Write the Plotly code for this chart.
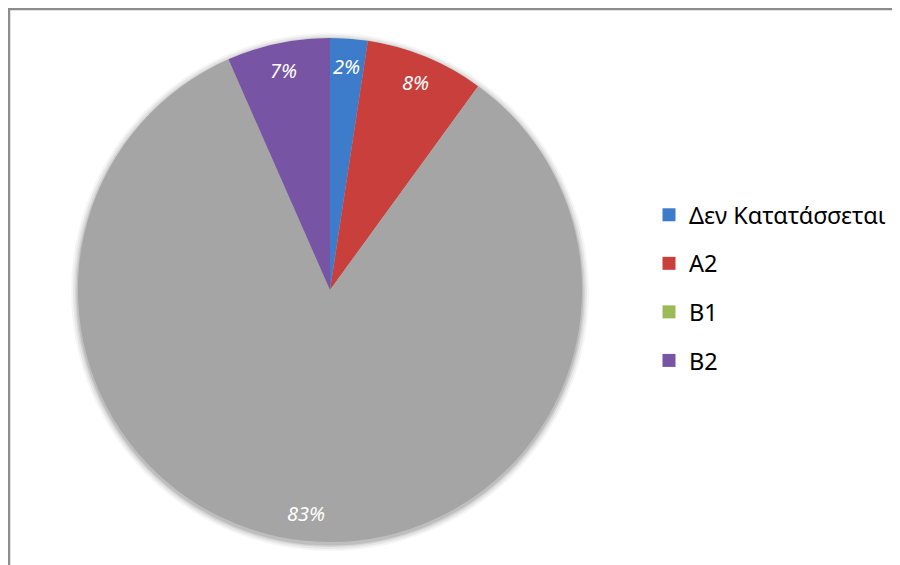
import math
import plotly.graph_objects as go

# chart data
categories = ['Δεν Κατατάσσεται', 'A2', 'B1', 'C1', 'B2']
values = [2.4, 7.6, 0.0, 83.4, 6.6]
colors = ['#3D7CCA', '#C83F3B', '#9BBB59', '#A5A5A5', '#7854A4']
legend_names = ['Δεν Κατατάσσεται', 'A2', 'B1', 'B2']
legend_colors = ['#3D7CCA', '#C83F3B', '#9BBB59', '#7854A4']

W, H = 900, 565
OFF = 8  # the page body adds an 8px margin
CX, CY, R = 330 - OFF, 290 - OFF, 252  # pie centre / radius in figure pixels

fig = go.Figure()

fig.add_trace(go.Pie(labels=categories,
                     values=values,
                     sort=False,
                     direction='clockwise',
                     rotation=0,
                     marker=dict(colors=colors, line=dict(width=0)),
                     textinfo='none',
                     hoverinfo='label+percent',
                     showlegend=False,
                     domain=dict(x=[(CX - R) / W, (CX + R) / W],
                                 y=[1 - (CY + R) / H, 1 - (CY - R) / H])
                     ))

# legend entries (B1 stays in the legend, the grey slice does not)
for i, (name, col) in enumerate(zip(legend_names, legend_colors)):
    fig.add_trace(go.Scatter(x=[None], y=[None], mode='markers', name=name,
                             legendgroup=str(i),
                             marker=dict(symbol='square', size=13, color=col)))

# percentage labels near the outer edge, computed from the slice angles
total = sum(values)
start = 0.0
annotations = []
for v in values:
    if v > 0:
        mid = (start + v / 2) / total * 2 * math.pi
        px = CX + 0.89 * R * math.sin(mid)
        py = CY - 0.89 * R * math.cos(mid)
        annotations.append(dict(x=px / W, y=1 - py / H, xref='paper', yref='paper',
                                xanchor='center', yanchor='middle',
                                text='<i>%d%%</i>' % round(v / total * 100),
                                showarrow=False,
                                font=dict(family='Noto Sans', size=20, color='white')))
    start += v

# soft shadow around the pie
shapes = []
for k, op in [(7, 0.04), (5, 0.06), (3, 0.08), (1.5, 0.10)]:
    shapes.append(dict(type='circle', xref='paper', yref='paper', layer='below',
                       x0=(CX - R - k) / W, x1=(CX + R + k) / W,
                       y0=1 - (CY + R + k + 2) / H, y1=1 - (CY - R - k + 2) / H,
                       fillcolor='rgba(0,0,0,%.2f)' % op, line=dict(width=0)))

# chart frame
shapes.append(dict(type='path', xref='paper', yref='paper',
                   path='M %f %f L %f %f L %f %f' % (1.0 / W, 0, 1.0 / W, 1 - 1.0 / H, 1.0, 1 - 1.0 / H),
                   line=dict(color='#8C8C8C', width=2.5)))

fig.update_layout(width=W, height=H,
                  margin=dict(l=0, r=0, t=0, b=0),
                  paper_bgcolor='white', plot_bgcolor='white',
                  font=dict(family='Noto Sans', color='black'),
                  showlegend=True,
                  legend=dict(x=(649 - OFF) / W, y=1 - (288 - OFF) / H, xanchor='left', yanchor='middle',
                              font=dict(family='Noto Sans', size=23.5, color='black'),
                              tracegroupgap=15, bgcolor='rgba(0,0,0,0)'),
                  annotations=annotations,
                  shapes=shapes)
fig.update_xaxes(visible=False)
fig.update_yaxes(visible=False)

fig.write_html("out.html")
